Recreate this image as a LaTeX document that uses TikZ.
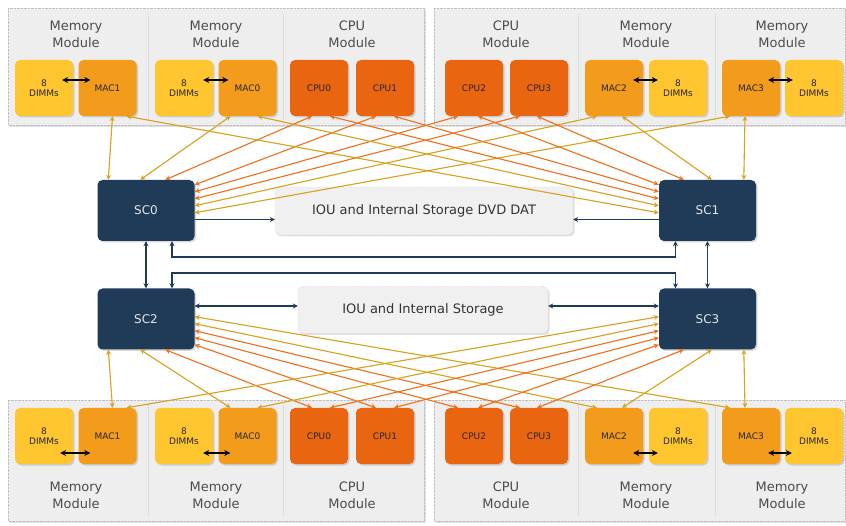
\documentclass[tikz,border=0pt]{standalone}
\usepackage{fontspec}
\setmainfont{DejaVu Sans}
\usetikzlibrary{arrows.meta,shadows}
\definecolor{dimmcol}{HTML}{FFC62F}
\definecolor{maccol}{HTML}{F39C1B}
\definecolor{cpucol}{HTML}{E9650F}
\definecolor{sccol}{HTML}{1F3B57}
\definecolor{linkgold}{HTML}{D8A21E}
\definecolor{linkorange}{HTML}{F0701E}
\begin{document}
\begin{tikzpicture}
[x=1pt,y=-1pt,%
  >={Stealth[length=5pt,width=5pt]},%
  every node/.style={inner sep=1pt,align=center},%
  panel/.style={fill=gray!13,draw=gray!50,densely dotted,drop shadow={opacity=0.25,shadow xshift=2pt,shadow yshift=-2pt}},%
  divider/.style={draw=gray!40,densely dotted,line width=1pt},%
  title/.style={text=black!70,font=\fontsize{13}{17}\selectfont},%
  chip/.style={rounded corners=5pt,minimum width=58pt,minimum height=56pt,text=black!85,font=\fontsize{9}{10}\selectfont,drop shadow={opacity=0.3,shadow xshift=1.5pt,shadow yshift=-1.5pt}},%
  dimm/.style={chip,fill=dimmcol},%
  mac/.style={chip,fill=maccol},%
  cpu/.style={chip,fill=cpucol},%
  sc/.style={rounded corners=5pt,fill=sccol,minimum width=97pt,minimum height=61pt,text=gray!20,font=\fontsize{12}{14}\selectfont,drop shadow={opacity=0.3,shadow xshift=1.5pt,shadow yshift=-1.5pt}},%
  iou/.style={rounded corners=5pt,fill=gray!12,draw=gray!55,densely dotted,text=black!80,font=\fontsize{13}{15}\selectfont,drop shadow={opacity=0.25,shadow xshift=1.5pt,shadow yshift=-1.5pt}},%
  dimmlink/.style={{Stealth[length=6pt,width=6pt]}-{Stealth[length=6pt,width=6pt]},black,line width=1.4pt},%
  memlink/.style={<->,draw=linkgold,fill=linkgold,line width=1.1pt},%
  cpulink/.style={<->,draw=linkorange,fill=linkorange,line width=1.1pt},%
  bus/.style={<->,draw=sccol,line width=1.1pt}]
\useasboundingbox (0,0) rectangle (846,526);
\draw[panel] (8,8) rectangle (424,125);
\draw[panel] (434,8) rectangle (845,125);
\draw[panel] (8,400) rectangle (424,521);
\draw[panel] (434,400) rectangle (845,521);
\draw[divider] (148,14) -- (148,120);
\draw[divider] (283,14) -- (283,120);
\draw[divider] (578,14) -- (578,120);
\draw[divider] (715,14) -- (715,120);
\draw[divider] (148,405) -- (148,516);
\draw[divider] (283,405) -- (283,516);
\draw[divider] (578,405) -- (578,516);
\draw[divider] (715,405) -- (715,516);
\node[title] (tt1) at (76,34) {Memory\\Module};
\node[title] (tt2) at (216,34) {Memory\\Module};
\node[title] (tt3) at (352,34) {CPU\\Module};
\node[title] (tt4) at (506,34) {CPU\\Module};
\node[title] (tt5) at (646,34) {Memory\\Module};
\node[title] (tt6) at (782,34) {Memory\\Module};
\node[title] (bt1) at (76,495) {Memory\\Module};
\node[title] (bt2) at (216,495) {Memory\\Module};
\node[title] (bt3) at (352,495) {CPU\\Module};
\node[title] (bt4) at (506,495) {CPU\\Module};
\node[title] (bt5) at (646,495) {Memory\\Module};
\node[title] (bt6) at (782,495) {Memory\\Module};
\node[dimm] (td1) at (44,88) {8\\DIMMs};
\node[mac] (tm1) at (107.5,88) {MAC1};
\node[dimm] (td0) at (184,88) {8\\DIMMs};
\node[mac] (tm0) at (247.5,88) {MAC0};
\node[cpu] (tc0) at (319,88) {CPU0};
\node[cpu] (tc1) at (385,88) {CPU1};
\node[cpu] (tc2) at (474,88) {CPU2};
\node[cpu] (tc3) at (539,88) {CPU3};
\node[mac] (tm2) at (614,88) {MAC2};
\node[dimm] (td2) at (678,88) {8\\DIMMs};
\node[mac] (tm3) at (751,88) {MAC3};
\node[dimm] (td3) at (814,88) {8\\DIMMs};
\node[dimm] (bd1) at (44,436) {8\\DIMMs};
\node[mac] (bm1) at (107.5,436) {MAC1};
\node[dimm] (bd0) at (184,436) {8\\DIMMs};
\node[mac] (bm0) at (247.5,436) {MAC0};
\node[cpu] (bc0) at (319,436) {CPU0};
\node[cpu] (bc1) at (385,436) {CPU1};
\node[cpu] (bc2) at (474,436) {CPU2};
\node[cpu] (bc3) at (539,436) {CPU3};
\node[mac] (bm2) at (614,436) {MAC2};
\node[dimm] (bd2) at (678,436) {8\\DIMMs};
\node[mac] (bm3) at (751,436) {MAC3};
\node[dimm] (bd3) at (814,436) {8\\DIMMs};
\draw[dimmlink] ([xshift=-11pt,yshift=8pt]td1.east) -- ([xshift=12pt,yshift=8pt]tm1.west);
\draw[dimmlink] ([xshift=-10pt,yshift=8pt]td0.east) -- ([xshift=10pt,yshift=8pt]tm0.west);
\draw[dimmlink] ([xshift=-10pt,yshift=8pt]tm2.east) -- ([xshift=9pt,yshift=8pt]td2.west);
\draw[dimmlink] ([xshift=-12pt,yshift=8pt]tm3.east) -- ([xshift=8pt,yshift=8pt]td3.west);
\draw[dimmlink] ([xshift=-13pt,yshift=-17pt]bd1.east) -- ([xshift=12pt,yshift=-17pt]bm1.west);
\draw[dimmlink] ([xshift=-10pt,yshift=-17pt]bd0.east) -- ([xshift=12pt,yshift=-17pt]bm0.west);
\draw[dimmlink] ([xshift=-10pt,yshift=-17pt]bm2.east) -- ([xshift=9pt,yshift=-17pt]bd2.west);
\draw[dimmlink] ([xshift=-12pt,yshift=-17pt]bm3.east) -- ([xshift=7pt,yshift=-17pt]bd3.west);
\node[sc] (sc0) at (146,210.5) {SC0};
\node[sc] (sc1) at (707.5,210.5) {SC1};
\node[sc] (sc2) at (146,319) {SC2};
\node[sc] (sc3) at (707.5,319) {SC3};
\node[iou,minimum width=298pt,minimum height=48pt] (iou1) at (424,211) {IOU and Internal Storage DVD DAT};
\node[iou,minimum width=250pt,minimum height=47pt] (iou2) at (423,310) {IOU and Internal Storage};
\coordinate (busa) at (0,257);
\coordinate (busb) at (0,273);
\draw[bus] (sc0) -- (sc2);
\draw[bus] (sc1) -- (sc3);
\draw[bus] ([xshift=26pt]sc0.south) -- ([xshift=26pt]sc0.south |- busa) -- ([xshift=-32pt]sc1.south |- busa) -- ([xshift=-32pt]sc1.south);
\draw[bus] ([xshift=26pt]sc2.north) -- ([xshift=26pt]sc2.north |- busb) -- ([xshift=-32pt]sc3.north |- busb) -- ([xshift=-32pt]sc3.north);
\draw[bus,->] ([yshift=-9pt]sc0.east) -- ([yshift=-9pt]sc0.east -| iou1.west);
\draw[bus,->] ([yshift=-9pt]sc1.west) -- ([yshift=-9pt]sc1.west -| iou1.east);
\draw[bus] ([yshift=13pt]sc2.east) -- ([yshift=13pt]sc2.east -| iou2.west);
\draw[bus] ([yshift=13pt]sc3.west) -- ([yshift=13pt]sc3.west -| iou2.east);
\draw[memlink] ([xshift=5pt]tm1.south) -- ([xshift=11pt]sc0.north west);
\draw[memlink] ([xshift=-17pt]tm0.south) -- ([xshift=43pt]sc0.north west);
\draw[cpulink] ([xshift=-7pt]tc0.south) -- ([xshift=68pt]sc0.north west);
\draw[cpulink] ([xshift=-9pt]tc1.south) -- ([yshift=-5pt]sc0.north east);
\draw[cpulink] ([xshift=-16pt]tc2.south) -- ([yshift=-12pt]sc0.north east);
\draw[cpulink] ([xshift=-19pt]tc3.south) -- ([yshift=-19pt]sc0.north east);
\draw[memlink] ([xshift=-17pt]tm2.south) -- ([yshift=-26pt]sc0.north east);
\draw[memlink] ([xshift=-21pt]tm3.south) -- ([yshift=-33pt]sc0.north east);
\draw[memlink] ([xshift=-6pt]tm3.south) -- ([xshift=85pt]sc1.north west);
\draw[memlink] ([xshift=8pt]tm2.south) -- ([xshift=53pt]sc1.north west);
\draw[cpulink] ([xshift=-2pt]tc3.south) -- ([xshift=25pt]sc1.north west);
\draw[cpulink] ([xshift=4pt]tc2.south) -- ([yshift=-5pt]sc1.north west);
\draw[cpulink] ([xshift=9pt]tc1.south) -- ([yshift=-12pt]sc1.north west);
\draw[cpulink] ([xshift=11pt]tc0.south) -- ([yshift=-19pt]sc1.north west);
\draw[memlink] ([xshift=10pt]tm0.south) -- ([yshift=-26pt]sc1.north west);
\draw[memlink] ([xshift=19pt]tm1.south) -- ([yshift=-33pt]sc1.north west);
\draw[memlink] ([xshift=5pt]bm1.north) -- ([xshift=11pt]sc2.south west);
\draw[memlink] ([xshift=-17pt]bm0.north) -- ([xshift=43pt]sc2.south west);
\draw[cpulink] ([xshift=-7pt]bc0.north) -- ([xshift=68pt]sc2.south west);
\draw[cpulink] ([xshift=-9pt]bc1.north) -- ([yshift=5pt]sc2.south east);
\draw[cpulink] ([xshift=-16pt]bc2.north) -- ([yshift=12pt]sc2.south east);
\draw[cpulink] ([xshift=-19pt]bc3.north) -- ([yshift=19pt]sc2.south east);
\draw[memlink] ([xshift=-17pt]bm2.north) -- ([yshift=26pt]sc2.south east);
\draw[memlink] ([xshift=-21pt]bm3.north) -- ([yshift=33pt]sc2.south east);
\draw[memlink] ([xshift=-6pt]bm3.north) -- ([xshift=85pt]sc3.south west);
\draw[memlink] ([xshift=8pt]bm2.north) -- ([xshift=53pt]sc3.south west);
\draw[cpulink] ([xshift=-2pt]bc3.north) -- ([xshift=25pt]sc3.south west);
\draw[cpulink] ([xshift=4pt]bc2.north) -- ([yshift=5pt]sc3.south west);
\draw[cpulink] ([xshift=9pt]bc1.north) -- ([yshift=12pt]sc3.south west);
\draw[cpulink] ([xshift=11pt]bc0.north) -- ([yshift=19pt]sc3.south west);
\draw[memlink] ([xshift=10pt]bm0.north) -- ([yshift=26pt]sc3.south west);
\draw[memlink] ([xshift=19pt]bm1.north) -- ([yshift=33pt]sc3.south west);
\end{tikzpicture}
\end{document}
